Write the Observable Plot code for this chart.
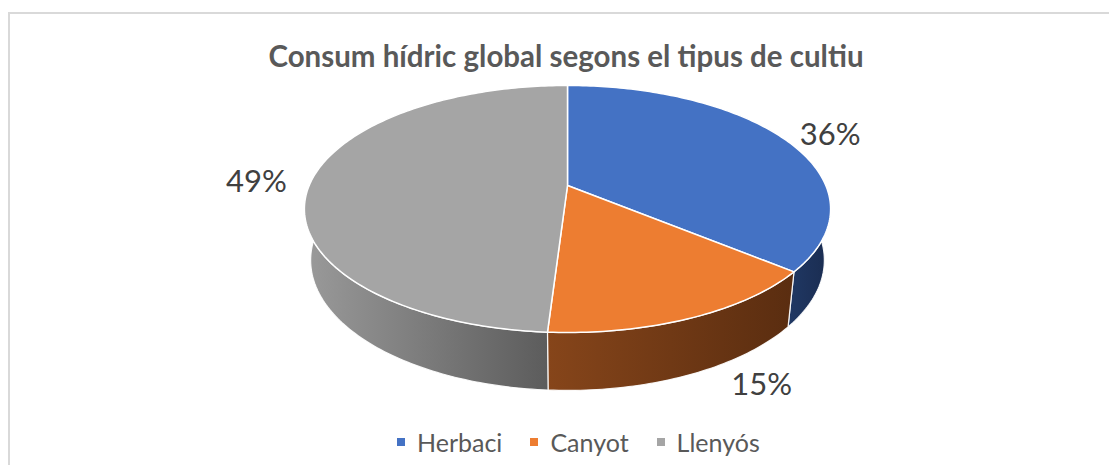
<!DOCTYPE html>
<html><head><meta charset="utf-8">
<script src="https://cdn.jsdelivr.net/npm/d3@7"></script>
<script src="https://cdn.jsdelivr.net/npm/@observablehq/plot@0.6"></script>
<style>
body{margin:0;background:#fff;width:1109px;height:465px;overflow:hidden;position:relative;font-family:Lato,"Open Sans",sans-serif;}
#frame{position:absolute;left:8px;top:12px;width:1200px;height:600px;border:2px solid #d9d9d9;box-sizing:border-box;}
#title{position:absolute;left:0;width:1132px;top:38px;text-align:center;font-weight:700;font-size:29.5px;line-height:1.2;color:#595959;white-space:nowrap;}
#chart{position:absolute;left:0;top:80px;}
#legend{position:absolute;top:427px;left:397px;display:flex;align-items:center;font-size:25px;line-height:1.2;color:#595959;white-space:nowrap;}
.item{display:flex;align-items:center;margin-right:28px}
.sw{width:8px;height:8px;margin-right:12px}
</style></head><body>
<div id="frame"></div>
<div id="title">Consum hídric global segons el tipus de cultiu</div>
<div id="chart"></div>
<div id="legend"></div>
<script>
const categories = ["Herbaci", "Canyot", "Llenyós"];
const values = [36, 15, 49];
const topColors = ["#4472C4", "#ED7D31", "#A5A5A5"];
const sideColors = [["#203864", "#1a2c50"], ["#86451a", "#5a2d10"], ["#9a9a9a", "#5c5c5c"]];

// layout / projection parameters
const W = 1109, H = 340;
const S = 0.47, C = 0.88, D = 4.63, F = 1173, FX = 1196, DEPTH = 0.232;
const AX = 567, AY = 105;

function proj(r, th, z) {
  const X = r * Math.sin(th), Y = r * Math.cos(th);
  const up = Y * S + z * C, fwd = Y * C - z * S;
  const k = 1 / (D + fwd);
  return {x: X * k, y: -up * k};
}
function arcPts(a0, a1, z) {
  const n = Math.max(2, Math.ceil((a1 - a0) / (Math.PI / 180)));
  return d3.range(n + 1).map(i => proj(1, a0 + (a1 - a0) * i / n, z));
}

const arcs = d3.pie().sort(null).startAngle(0).endAngle(2 * Math.PI)(values);

const marks = [];
// side walls (front half only)
arcs.forEach((a, i) => {
  const s0 = Math.max(a.startAngle, Math.PI / 2), s1 = Math.min(a.endAngle, 3 * Math.PI / 2);
  if (s1 <= s0) return;
  const pts = arcPts(s0, s1, 0).concat(arcPts(s0, s1, -DEPTH).reverse());
  marks.push(Plot.line(pts, {x: "x", y: "y", curve: "linear-closed", fill: `url(#side${i})`, stroke: "#ffffff", strokeWidth: 1.2, strokeOpacity: 0.9}));
});
// top faces
arcs.forEach((a, i) => {
  const pts = [proj(0, 0, 0)].concat(arcPts(a.startAngle, a.endAngle, 0));
  marks.push(Plot.line(pts, {x: "x", y: "y", curve: "linear-closed", fill: topColors[i], stroke: "#ffffff", strokeWidth: 1.5}));
});
// labels (outside end)
const labels = arcs.map((a, i) => {
  const th = (a.startAngle + a.endAngle) / 2;
  const ct = Math.cos(th);
  const p = proj(1, th, ct < 0 ? -DEPTH : 0);
  const sg = Math.sin(th) >= 0 ? 1 : -1;
  return {x: p.x + sg * (55 - 20 * ct) / FX, y: p.y + (1 - 10 * ct) / F, text: `${values[i]}%`};
});
marks.push(Plot.text(labels, {x: "x", y: "y", text: "text", fontSize: 31, fill: "#404040", fontFamily: "Lato", textAnchor: "middle", lineAnchor: "middle"}));

const svg = Plot.plot({
  width: W, height: H,
  marginTop: 0, marginBottom: 0, marginLeft: 0, marginRight: 0,
  x: {domain: [-AX / FX, (W - AX) / FX], range: [0, W], axis: null},
  y: {domain: [-AY / F, (H - AY) / F], range: [0, H], axis: null},
  style: {background: "transparent", overflow: "visible"},
  marks
});
const ns = "http://www.w3.org/2000/svg";
const defs = document.createElementNS(ns, "defs");
sideColors.forEach((c, i) => {
  const g = document.createElementNS(ns, "linearGradient");
  g.setAttribute("id", `side${i}`);
  g.setAttribute("x1", "0"); g.setAttribute("x2", "1"); g.setAttribute("y1", "0"); g.setAttribute("y2", "0");
  c.forEach((col, j) => {
    const st = document.createElementNS(ns, "stop");
    st.setAttribute("offset", j === 0 ? "0" : "1");
    st.setAttribute("stop-color", col);
    g.appendChild(st);
  });
  defs.appendChild(g);
});
svg.insertBefore(defs, svg.firstChild);
document.getElementById("chart").appendChild(svg);

const legend = document.getElementById("legend");
categories.forEach((c, i) => {
  const it = document.createElement("div"); it.className = "item";
  const sw = document.createElement("div"); sw.className = "sw"; sw.style.background = topColors[i];
  const tx = document.createElement("span"); tx.textContent = c;
  it.appendChild(sw); it.appendChild(tx); legend.appendChild(it);
});
</script>
</body></html>
